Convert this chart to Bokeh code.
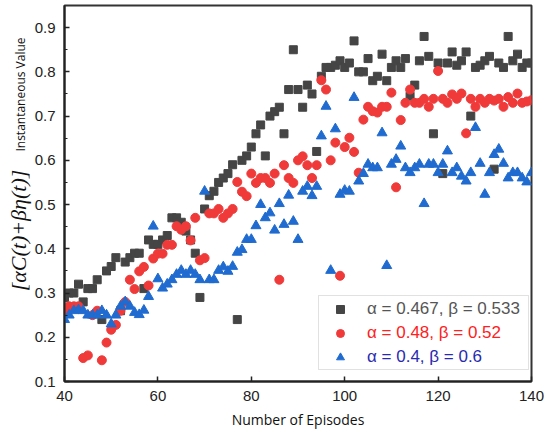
from bokeh.plotting import figure
from bokeh.models import Range1d, FixedTicker, Label, Legend, LegendItem, BoxAnnotation
from bokeh.embed import file_html
from bokeh.resources import INLINE

episodes = list(range(40, 141))

series_gray = [
    0.29, 0.30, 0.30, 0.32, 0.28, 0.31, 0.31, 0.33, 0.24, 0.35,   # 40-49
    0.36, 0.38, 0.26, 0.37, 0.38, 0.39, 0.39, 0.31, 0.42, 0.41,   # 50-59
    0.41, 0.42, 0.43, 0.47, 0.47, 0.46, 0.44, 0.42, 0.39, 0.29,   # 60-69
    0.49, 0.52, 0.53, 0.55, 0.56, 0.57, 0.59, 0.24, 0.60, 0.61,   # 70-79
    0.63, 0.66, 0.68, 0.61, 0.70, 0.71, 0.72, 0.66, 0.76, 0.85,   # 80-89
    0.76, 0.72, 0.77, 0.75, 0.62, 0.79, 0.81, 0.81, 0.815, 0.825, # 90-99
    0.81, 0.82, 0.87, 0.80, 0.80, 0.83, 0.78, 0.79, 0.84, 0.78,   # 100-109
    0.81, 0.825, 0.81, 0.83, 0.745, 0.77, 0.825, 0.88, 0.835, 0.66,  # 110-119
    0.82, 0.57, 0.82, 0.845, 0.815, 0.825, 0.845, 0.70, 0.81, 0.815, # 120-129
    0.825, 0.835, 0.58, 0.82, 0.81, 0.88, 0.825, 0.84, 0.81, 0.82,   # 130-139
    0.82,                                                          # 140
]

series_red = [
    0.26, 0.27, 0.27, 0.27, 0.153, 0.159, 0.25, 0.26, 0.148, 0.188,  # 40-49
    0.217, 0.228, 0.26, 0.28, 0.33, 0.309, 0.349, 0.359, 0.317, 0.378,  # 50-59
    0.389, 0.389, 0.409, 0.409, 0.451, 0.443, 0.451, 0.419, 0.47, 0.374,  # 60-69
    0.379, 0.48, 0.48, 0.49, 0.47, 0.48, 0.49, 0.551, 0.529, 0.519,  # 70-79
    0.57, 0.549, 0.56, 0.56, 0.549, 0.57, 0.33, 0.589, 0.56, 0.549,  # 80-89
    0.60, 0.609, 0.589, 0.56, 0.589, 0.781, 0.76, 0.60, 0.64, 0.339,  # 90-99
    0.63, 0.651, 0.619, 0.572, 0.692, 0.721, 0.711, 0.708, 0.721, 0.721,  # 100-109
    0.753, 0.539, 0.691, 0.73, 0.76, 0.73, 0.73, 0.739, 0.721, 0.739,  # 110-119
    0.802, 0.739, 0.73, 0.749, 0.739, 0.751, 0.661, 0.739, 0.721, 0.739,  # 120-129
    0.73, 0.739, 0.735, 0.739, 0.721, 0.743, 0.73, 0.751, 0.73, 0.733,  # 130-139
    0.736,                                                          # 140
]

series_blue = [
    0.24, 0.25, 0.26, 0.262, 0.26, 0.25, 0.25, 0.25, 0.26, 0.25,   # 40-49
    0.23, 0.25, 0.27, 0.28, 0.27, 0.256, 0.251, 0.261, 0.292, 0.451,  # 50-59
    0.332, 0.311, 0.32, 0.33, 0.342, 0.351, 0.342, 0.351, 0.342, 0.33,  # 60-69
    0.53, 0.33, 0.33, 0.351, 0.359, 0.349, 0.36, 0.392, 0.398, 0.421,  # 70-79
    0.421, 0.452, 0.50, 0.47, 0.481, 0.442, 0.502, 0.455, 0.521, 0.462,  # 80-89
    0.421, 0.53, 0.541, 0.52, 0.541, 0.655, 0.722, 0.351, 0.671, 0.523,  # 90-99
    0.532, 0.53, 0.742, 0.553, 0.57, 0.591, 0.583, 0.583, 0.662, 0.362,  # 100-109
    0.591, 0.602, 0.632, 0.583, 0.572, 0.583, 0.591, 0.502, 0.591, 0.591,  # 110-119
    0.572, 0.591, 0.621, 0.572, 0.583, 0.564, 0.553, 0.572, 0.674, 0.593,  # 120-129
    0.523, 0.572, 0.613, 0.625, 0.593, 0.56, 0.572, 0.572, 0.56, 0.551,  # 130-139
    0.572,                                                          # 140
]

labels = ["\u03b1 = 0.467, \u03b2 = 0.533", "\u03b1 = 0.48, \u03b2 = 0.52", "\u03b1 = 0.4, \u03b2 = 0.6"]
x_ticks = [40, 60, 80, 100, 120, 140]
y_ticks = [0.1, 0.2, 0.3, 0.4, 0.5, 0.6, 0.7, 0.8, 0.9]
y_minor = [0.15, 0.25, 0.35, 0.45, 0.55, 0.65, 0.75, 0.85]

X_LO, X_HI = 40, 140
Y_LO, Y_HI = 0.1, 0.95
W, H = 549, 434
BL, BR, BT, BB = 64, 18, 5, 53

p = figure(width=W, height=H, output_backend="svg", toolbar_location=None,
           x_range=Range1d(X_LO, X_HI), y_range=Range1d(Y_LO, Y_HI),
           min_border_left=BL, min_border_right=BR, min_border_top=BT, min_border_bottom=BB)
p.grid.visible = False
p.outline_line_color = "#333333"
p.outline_line_width = 2
p.background_fill_color = "white"

r1 = p.scatter(episodes, series_gray, marker="square", size=8, color="#454545")
r2 = p.scatter(episodes, series_red, marker="circle", size=9, color="#f03a3a")
r3 = p.scatter(episodes, series_blue, marker="triangle", size=10, color="#1f6bd0")

# axes
for ax in (p.xaxis, p.yaxis):
    ax.axis_line_width = 2
    ax.axis_line_color = "#222222"
    ax.major_tick_in = 5
    ax.major_tick_out = 0
    ax.major_tick_line_width = 1.5
    ax.major_tick_line_color = "#222222"
    ax.minor_tick_in = 3
    ax.minor_tick_out = 0
    ax.minor_tick_line_color = "#222222"
    ax.major_label_text_font = "Liberation Sans"
    ax.major_label_text_font_size = "15px"
    ax.major_label_text_color = "#222222"
    ax.major_label_standoff = 9

p.xaxis.ticker = FixedTicker(ticks=x_ticks)
p.yaxis.ticker = FixedTicker(ticks=y_ticks, minor_ticks=y_minor)
p.yaxis.major_label_overrides = {t: f"{t:.1f}" for t in y_ticks}
p.xaxis.minor_tick_line_color = None
p.xaxis.axis_label = "Number of Episodes"
p.xaxis.axis_label_text_font = "Open Sans"
p.xaxis.axis_label_text_font_style = "normal"
p.xaxis.axis_label_text_font_size = "14px"
p.xaxis.axis_label_text_color = "#111111"
p.xaxis.axis_label_standoff = 6

# y-axis titles, drawn in the left margin (pixel offsets converted to data units)
px_x = (W - BL - BR) / (X_HI - X_LO)
px_y = (H - BT - BB) / (Y_HI - Y_LO)
def to_dx(fx):
    return X_LO + (fx - BL) / px_x
def to_dy(fy):
    return Y_LO + (H - BB - fy) / px_y

p.add_layout(Label(x=to_dx(18), y=to_dy(230),
                   text="[\u03b1C(t)+\u03b2\u03b7(t)]", angle=90, angle_units="deg",
                   text_align="center", text_baseline="middle",
                   text_font="Liberation Serif", text_font_style="italic",
                   text_font_size="22px", text_color="#111111"), "left")
# hosted in the (roomier) right panel so it does not widen the left margin
p.add_layout(Label(x=to_dx(19.5), y=to_dy(94),
                   text="Instantaneous Value", angle=90, angle_units="deg",
                   text_align="center", text_baseline="middle",
                   text_font="Open Sans", text_font_size="12px", text_color="#111111"), "right")

# legend frame
p.add_layout(BoxAnnotation(left=254, right=464, bottom=12, top=86,
                           left_units="screen", right_units="screen",
                           bottom_units="screen", top_units="screen",
                           fill_color="white", fill_alpha=1.0,
                           line_color="#9a9a9a", line_width=1))

text_colors = ["#555555", "#ff2020", "#2a2ab0"]
rows_y = [60, 36, 12]
for r, lab, col, yy in zip((r1, r2, r3), labels, text_colors, rows_y):
    lg = Legend(items=[LegendItem(label=lab, renderers=[r])], location=(266, yy),
                label_text_color=col, label_text_font="Liberation Sans",
                label_text_font_size="17px", border_line_alpha=0,
                background_fill_alpha=0, padding=0, margin=0, spacing=0,
                glyph_width=20, glyph_height=24, label_height=24, label_standoff=17)
    p.add_layout(lg, "center")

open("out.html", "w").write(file_html(p, INLINE))
